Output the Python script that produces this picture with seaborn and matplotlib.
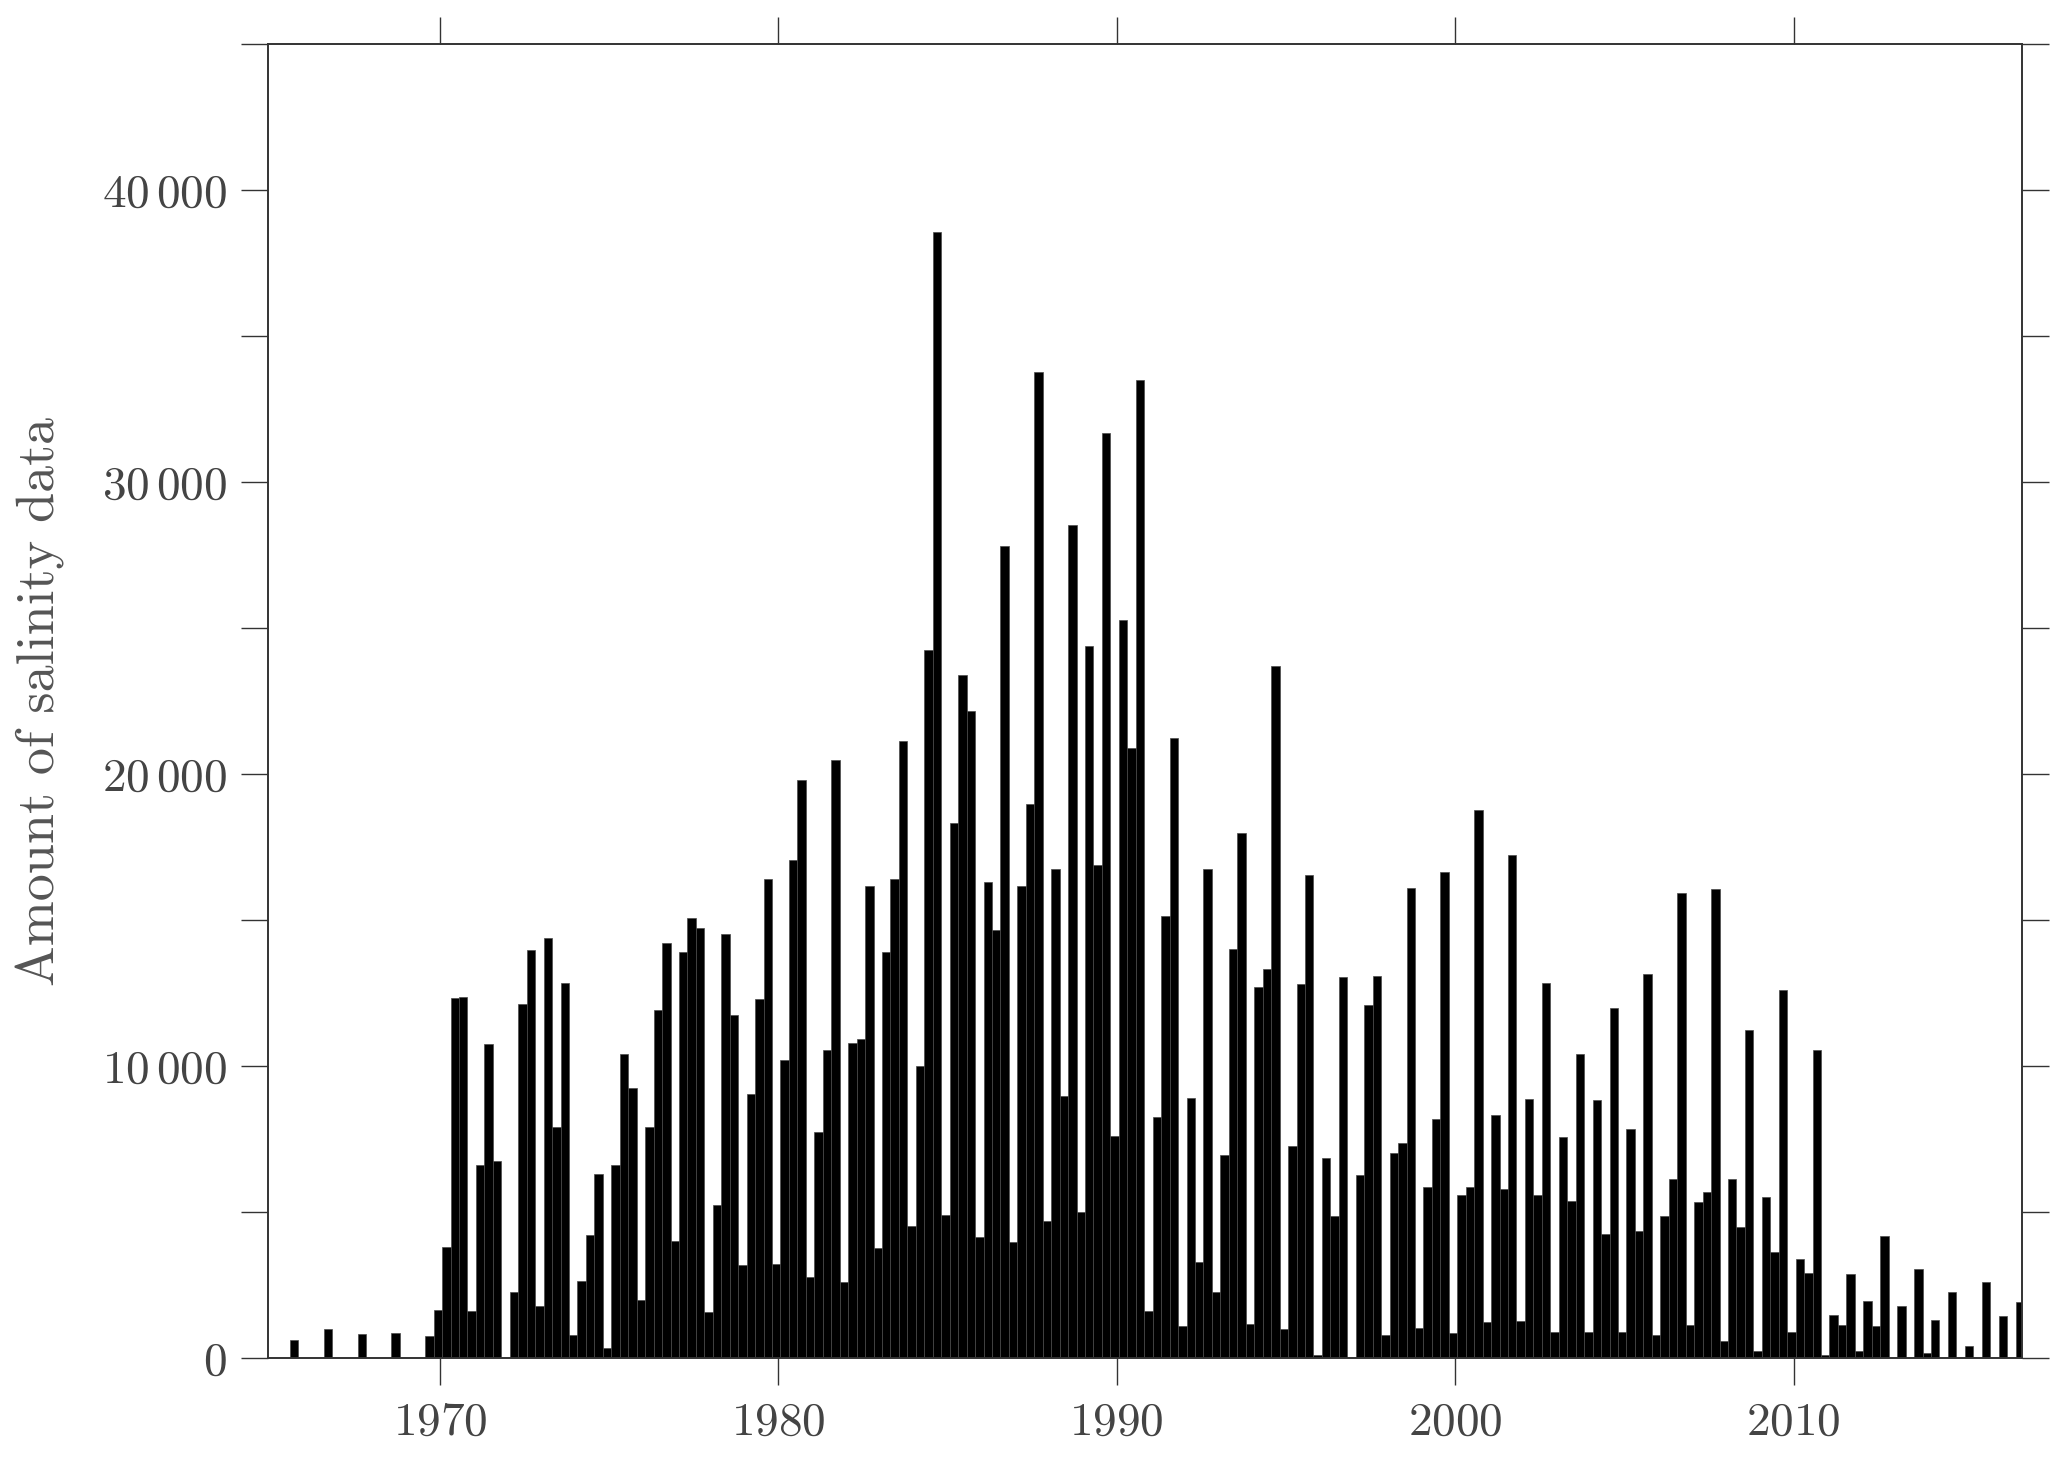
import numpy as np
import pandas as pd
import matplotlib.pyplot as plt
import seaborn as sns
from matplotlib.ticker import MultipleLocator, FuncFormatter, NullFormatter

# Quarterly counts of salinity observations, 1965-2016
years = list(range(1965, 2017))
q1 = [0, 0, 0, 0, 0, 3820, 6640, 2290, 14380, 2660,
      6610, 7930, 13920, 5240, 9060, 10210, 7740, 10810, 13920, 10030,
      18330, 16320, 16160, 16770, 24380, 25290, 8280, 8920, 6960, 12710,
      7280, 6880, 6290, 7020, 5860, 5590, 8330, 8870, 7580, 8840,
      7850, 4870, 5350, 6130, 5540, 3410, 1480, 1960, 1800, 1320,
      430, 1450]
q2 = [0, 0, 0, 0, 0, 12340, 10780, 12150, 7930, 4220,
      10430, 11940, 15080, 14540, 12310, 17070, 10560, 10940, 16420, 24270,
      23390, 14680, 18980, 8980, 16910, 20890, 15160, 3310, 14030, 13330,
      12820, 4870, 12100, 7390, 8200, 5860, 5810, 5590, 5400, 4270,
      4360, 6160, 5700, 4490, 3630, 2930, 1160, 1100, 0, 0,
      0, 0]
q3 = [650, 1000, 850, 880, 780, 12370, 6750, 14000, 12850, 6320,
      9250, 14220, 14730, 11770, 16420, 19810, 20480, 16160, 21130, 38570,
      22180, 27820, 33760, 28520, 31690, 33490, 21240, 16770, 17980, 23710,
      16560, 13060, 13090, 16100, 16670, 18790, 17230, 12850, 10430, 11990,
      13170, 15940, 16070, 11240, 12610, 10560, 2880, 4190, 3060, 2290,
      2610, 1940]
q4 = [0, 0, 0, 0, 1670, 1640, 0, 1800, 810, 350,
      1990, 4030, 1590, 3200, 3250, 2800, 2630, 3790, 4540, 4920,
      4170, 3980, 4700, 5000, 7610, 1610, 1100, 2290, 1180, 1020,
      110, 30, 810, 1060, 860, 1240, 1290, 890, 910, 890,
      810, 1130, 590, 240, 910, 110, 270, 0, 190, 0,
      0, 0]

rows = []
for q, vals in enumerate([q1, q2, q3, q4]):
    for y, v in zip(years, vals):
        rows.append({"time": y + (3 * q + 2.25) / 12, "count": v})
df = pd.DataFrame(rows).sort_values("time")

sns.set_style("ticks")
plt.rcParams["mathtext.fontset"] = "cm"
plt.rcParams["font.family"] = ["cmr10", "DejaVu Serif"]
plt.rcParams["axes.formatter.use_mathtext"] = True

grey = "#333333"
fig = plt.figure(figsize=(20.67, 14.62), dpi=100)
ax = fig.add_axes([0.1297, 0.0708, 0.8485, 0.8991])

sns.barplot(data=df, x="time", y="count", native_scale=True, width=1.0,
            color="black", saturation=1, edgecolor="#4a4a4a", linewidth=0.5,
            errorbar=None, ax=ax)

ax.set_xlim(1964.92, 2016.75)
ax.set_ylim(0, 45000)

ax.xaxis.set_major_locator(MultipleLocator(10))
ax.xaxis.set_major_formatter(FuncFormatter(lambda v, _: f"${int(v)}$"))
ax.yaxis.set_major_locator(MultipleLocator(10000))
ax.yaxis.set_minor_locator(MultipleLocator(5000))
ax.yaxis.set_major_formatter(
    FuncFormatter(lambda v, _: "$" + f"{int(v):,}".replace(",", r"\,") + "$"))
ax.yaxis.set_minor_formatter(NullFormatter())

ax.tick_params(axis="both", which="both", direction="out", length=19.5,
               width=1.0, color=grey, labelcolor="#444444", labelsize=34,
               top=True, right=True)
ax.tick_params(axis="x", pad=12)
ax.tick_params(axis="y", pad=10)

for s in ax.spines.values():
    s.set_color(grey)
    s.set_linewidth(1.4)

ax.set_xlabel("")
ax.set_ylabel("Amount of salinity data", fontsize=39, color="#555555",
              family=["cmr10", "DejaVu Serif"], labelpad=27)

fig.savefig("out.png", dpi=100)
